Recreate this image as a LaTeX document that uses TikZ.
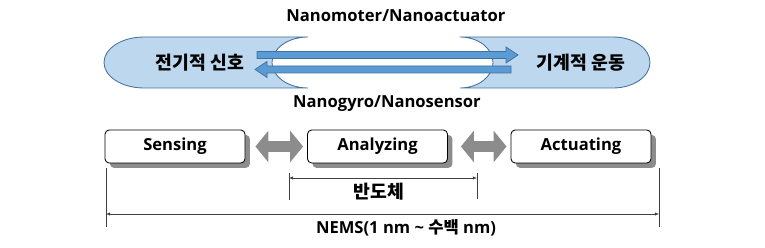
\documentclass[tikz,border=0pt]{standalone}
\usepackage{fontspec}
\setmainfont{Open Sans}
\newfontfamily\krfont{Noto Sans CJK KR}
\usetikzlibrary{arrows.meta,shadows}
\definecolor{NEBlue}{HTML}{5B9BD5}
\definecolor{NELine}{HTML}{41719C}
\definecolor{NELight}{HTML}{BDD7EE}
\definecolor{NEGrey}{HTML}{8C8C8C}
\definecolor{NEDim}{HTML}{404040}

\begin{document}
\begin{tikzpicture}[x=0.025cm,y=0.025cm,
  lbl/.style={font=\fontsize{11.8}{14}\selectfont\bfseries},
  krlbl/.style={font=\fontsize{13}{15}\selectfont\krfont\bfseries},
  endshape/.style={fill=NELight,draw=NELine,line width=0.6pt},
  bigarrow/.style={fill=NEBlue,draw=NELine,line width=0.5pt},
  stagebox/.style={draw=black,fill=white,rounded corners=3pt,line width=0.6pt,
    minimum width=3.5cm,minimum height=0.825cm,lbl,
    drop shadow={shadow xshift=3.5pt,shadow yshift=-3.5pt,fill=NEGrey,opacity=1}},
  dblarrow/.style={draw=NEGrey,line width=7.8pt,
    {Triangle[length=9.2pt,width=22pt]}-{Triangle[length=9.2pt,width=22pt]}},
  dimline/.style={draw=NEDim,line width=0.4pt,
    {Latex[length=3pt,width=2.4pt]}-{Latex[length=3pt,width=2.4pt]}},
  dimtick/.style={draw=NEDim,line width=0.4pt}]
\path[use as bounding box] (0,0) rectangle (765,248);
% signal ends
\path[endshape] (144,211) -- (308,211)
  arc[start angle=90,end angle=270,x radius=36,y radius=25.5]
  -- (144,160) arc[start angle=270,end angle=90,x radius=40,y radius=25.5] -- cycle;
\path[endshape] (460,211) -- (613,211)
  arc[start angle=90,end angle=-90,x radius=37,y radius=25.5]
  -- (460,160) arc[start angle=-90,end angle=90,x radius=33,y radius=25.5] -- cycle;
\path[bigarrow] (257,189.5) -- (506,189.5) -- (506,185) -- (518,193)
  -- (506,201) -- (506,196.5) -- (257,196.5) -- cycle;
\path[bigarrow] (511,175) -- (267,175) -- (267,170.5) -- (255,178.5)
  -- (267,186.5) -- (267,182) -- (511,182) -- cycle;
\node[krlbl] (elec) at (200,185.5) {전기적 신호};
\node[krlbl] (mech) at (581,185.5) {기계적 운동};
\node[lbl] (motor) at (396,232) {Nanomoter/Nanoactuator};
\node[lbl] (gyro) at (387,144) {Nanogyro/Nanosensor};
% stages
\node[stagebox] (sensing) at (175,101.5) {Sensing};
\node[stagebox] (analyzing) at (377.5,101.5) {Analyzing};
\node[stagebox] (actuating) at (581,101.5) {Actuating};
\draw[dblarrow] ([xshift=0.25cm]sensing.east) -- ([xshift=-0.1cm]analyzing.west);
\draw[dblarrow] ([xshift=0.325cm]analyzing.east) -- ([xshift=-0.1cm]actuating.west);
% scale ranges
\coordinate (semiL) at (289,70);
\coordinate (semiR) at (477,70);
\draw[dimtick] (289,75) -- (289,48);
\draw[dimtick] (477,75) -- (477,49);
\draw[dimline] (semiL) -- (semiR);
\node[krlbl] (semi) at (379,56) {반도체};
\coordinate (nemsL) at (106,34);
\coordinate (nemsR) at (659,34);
\draw[dimtick] (106,80) -- (106,21);
\draw[dimtick] (659,80) -- (659,21);
\draw[dimline] (nemsL) -- (nemsR);
\node[lbl] (nems) at (406,20) {NEMS(1 nm \textasciitilde{} {\krfont 수백} nm)};
\end{tikzpicture}
\end{document}
